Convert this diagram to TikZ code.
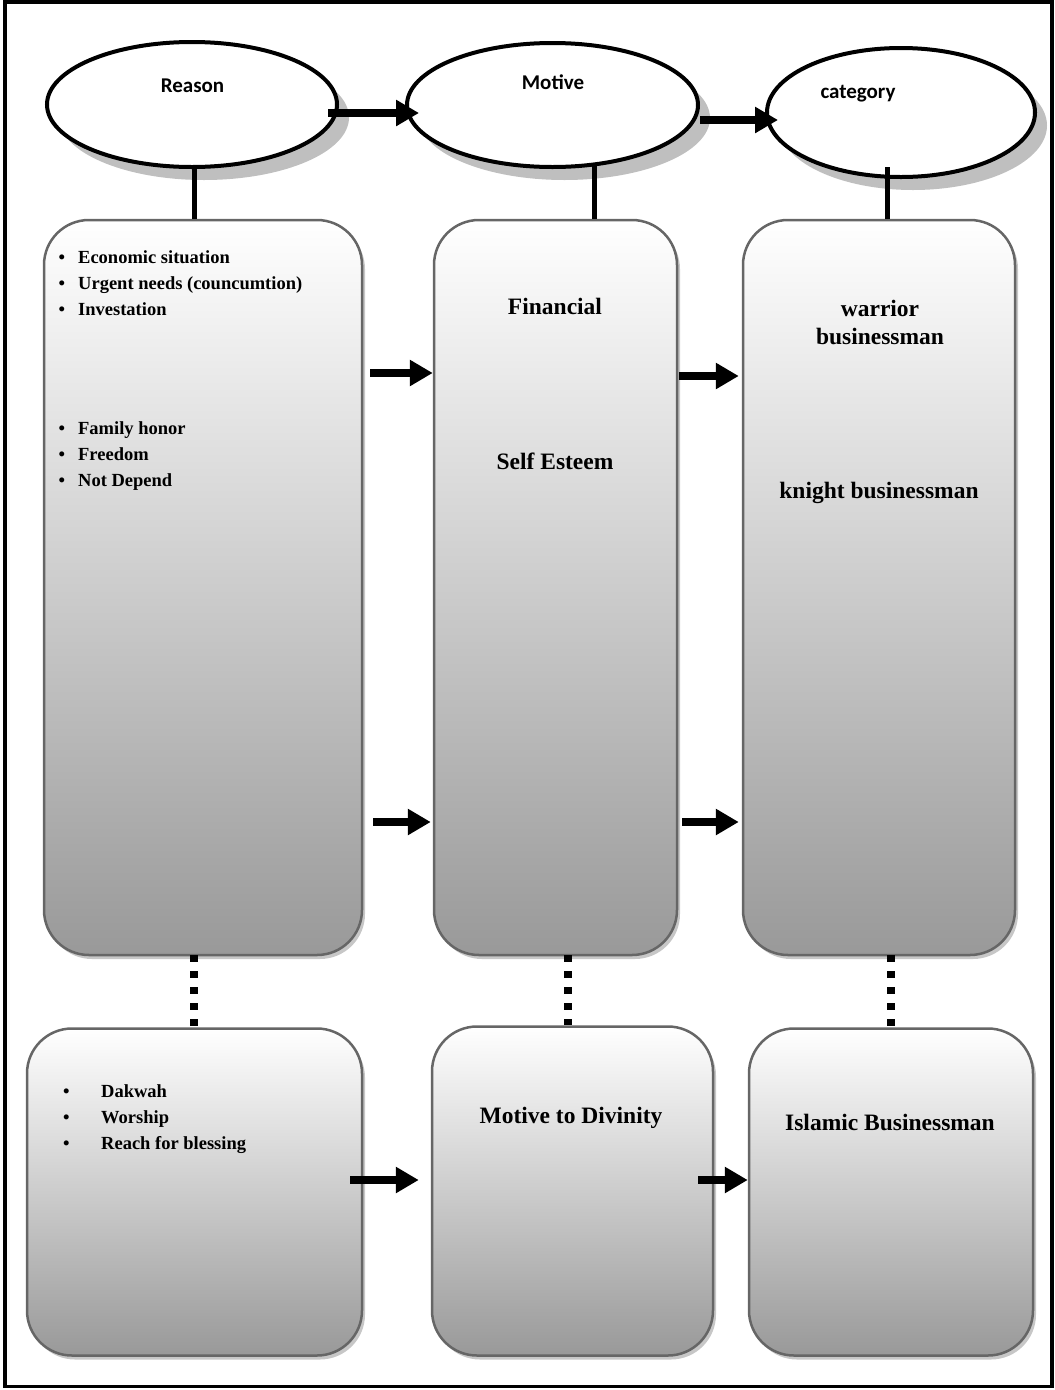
\documentclass[tikz,border=0pt]{standalone}
\usepackage{fontspec}
\setmainfont{Liberation Serif}
\newfontfamily\calfont{Carlito}
\usetikzlibrary{arrows.meta,shapes.geometric,shadows}

% bullet followed by a fixed gap
\newcommand{\bulA}{\makebox[19.5pt][l]{•}}
\newcommand{\bulB}{\makebox[38pt][l]{•}}

\begin{document}
\begin{tikzpicture}[x=1pt,y=-1pt,
  ell/.style={ellipse, draw=black, line width=4pt, fill=white, inner sep=0pt,
    drop shadow={shadow xshift=12pt, shadow yshift=-13pt, fill=black!25, opacity=1}},
  elltext/.style={font=\calfont\bfseries\fontsize{21}{25}\selectfont, anchor=base, inner sep=0pt},
  panel/.style={rectangle, rounded corners=45pt, draw=black!60, line width=2.5pt,
    top color=white, bottom color=black!40, inner sep=0pt,
    drop shadow={shadow xshift=3pt, shadow yshift=-4pt, fill=black!22, opacity=1}},
  item/.style={font=\bfseries\fontsize{18.5}{22}\selectfont, anchor=base west, inner sep=0pt},
  label/.style={font=\bfseries\fontsize{23.5}{28}\selectfont, anchor=base, inner sep=0pt},
  flow/.style={line width=8pt, -{Triangle[length=23pt,width=25pt]}},
  stem/.style={line width=5pt},
  dots/.style={line width=8pt, dash pattern=on 7pt off 9pt}
]
\useasboundingbox (0,0) rectangle (1055,1390);
\draw[line width=3.5pt] (5,2) rectangle (1052,1386.5);

% header ellipses
\node[ell, minimum width=290pt, minimum height=125pt] (reason) at (192,104.5) {};
\node[ell, minimum width=291pt, minimum height=124pt] (motive) at (552.5,105) {};
\node[ell, minimum width=268pt, minimum height=129pt] (category) at (901,112.5) {};
\node[elltext] (treason) at (192.5,92) {Reason};
\node[elltext] (tmotive) at (553,89) {Motive};
\node[elltext] (tcategory) at (858,98) {category};

% upper panels
\node[panel, minimum width=318pt, minimum height=735pt] (L1) at (203,587.5) {};
\node[panel, minimum width=243pt, minimum height=735pt] (M1) at (555.5,587.5) {};
\node[panel, minimum width=272pt, minimum height=735pt] (R1) at (879,587.5) {};

% lower panels
\node[panel, minimum width=335pt, minimum height=327pt] (L2) at (194.5,1192) {};
\node[panel, minimum width=281pt, minimum height=329pt] (M2) at (572.5,1191) {};
\node[panel, minimum width=284pt, minimum height=327pt] (R2) at (891,1192) {};

% header links
\coordinate (hs1) at (328,113);
\coordinate (hs2) at (700,120);
\draw[flow, shorten >=-14pt] (hs1) -- (motive.west |- hs1);
\draw[flow, shorten >=-13pt] (hs2) -- (category.west |- hs2);

\coordinate (st1) at (194,167);
\coordinate (st2) at (594,164);
\coordinate (st3) at (887,167);
\draw[stem] (st1) -- (st1 |- L1.north);
\draw[stem] (st2) -- (st2 |- M1.north);
\draw[stem] (st3) -- (st3 |- R1.north);

% dotted links between the two rows
\coordinate (dt1) at (194,955);
\coordinate (dt2) at (568,955);
\coordinate (dt3) at (891,955);
\draw[dots] (dt1) -- (dt1 |- L2.north);
\draw[dots] (dt2) -- (dt2 |- M2.north);
\draw[dots] (dt3) -- (dt3 |- R2.north);

% arrows between panels
\coordinate (a1) at (370,373);
\coordinate (a2) at (679,376);
\coordinate (a3) at (373,822);
\coordinate (a4) at (682,822);
\coordinate (a5) at (350,1180);
\coordinate (a6) at (698,1180);
\draw[flow] (a1) -- (a1 -| M1.west);
\draw[flow, shorten >=3pt] (a2) -- (a2 -| R1.west);
\draw[flow, shorten >=2pt] (a3) -- (a3 -| M1.west);
\draw[flow, shorten >=3pt] (a4) -- (a4 -| R1.west);
\draw[flow, shorten >=12pt] (a5) -- (a5 -| M2.west);
\draw[flow] (a6) -- (a6 -| R2.west);

% reasons
\node[item] (ra) at (58.5,263) {\bulA Economic situation};
\node[item] (rb) at (58.5,289) {\bulA Urgent needs (councumtion)};
\node[item] (rc) at (58.5,315) {\bulA Investation};
\node[item] (rd) at (58.5,434) {\bulA Family honor};
\node[item] (re) at (58.5,460) {\bulA Freedom};
\node[item] (rf) at (58.5,486) {\bulA Not Depend};
\node[item] (rg) at (63,1097) {\bulB Dakwah};
\node[item] (rh) at (63,1123) {\bulB Worship};
\node[item] (ri) at (63,1149) {\bulB Reach for blessing};

% motives
\node[label] (ma) at (555,314) {Financial};
\node[label] (mb) at (555,469) {Self Esteem};
\node[label] (mc) at (571,1123) {Motive to Divinity};

% categories
\node[label] (ca) at (880,316) {warrior};
\node[label] (cb) at (880,344) {businessman};
\node[label] (cc) at (879,498) {knight businessman};
\node[label] (cd) at (890,1130) {Islamic Businessman};
\end{tikzpicture}
\end{document}
